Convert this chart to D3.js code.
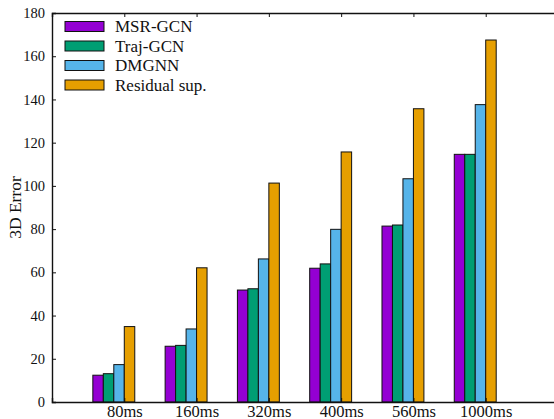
<!DOCTYPE html>
<html lang="en">
    <head>
        <meta charset="UTF-8" />
        <title>3D Error bar chart</title>
        <script src="https://cdn.jsdelivr.net/npm/d3@7"></script>
        <style>
            body { margin: 0; padding: 0; background: #fff; }
            text { font-family: 'Liberation Serif', 'Times New Roman', serif; fill: #111; }
        </style>
    </head>
    <body>
        <script>
            // categories and the four methods
            const categories = ['80ms', '160ms', '320ms', '400ms', '560ms', '1000ms'];
            const seriesNames = ['MSR-GCN', 'Traj-GCN', 'DMGNN', 'Residual sup.'];
            const msrGcn = [12.4, 25.8, 51.8, 61.9, 81.4, 114.6];
            const trajGcn = [13.1, 26.2, 52.4, 63.9, 81.9, 114.6];
            const dmgnn = [17.3, 33.8, 66.2, 79.9, 103.3, 137.6];
            const residualSup = [34.9, 62.1, 101.3, 115.7, 135.7, 167.5];
            const yTicks = [0, 20, 40, 60, 80, 100, 120, 140, 160, 180];

            {
                const colors = ['#9400d3', '#009e73', '#56b4e9', '#e69f00'];
                const allSeries = [msrGcn, trajGcn, dmgnn, residualSup];

                const width = 554;
                const height = 419;
                const mLeft = 52, mTop = 13, mBottom = 402, mRight = 558;

                const svg = d3.select('body')
                    .append('svg')
                    .attr('width', width)
                    .attr('height', height);

                // x: category i sits at position i+1, frame runs 0..7
                const x = d3.scaleLinear().domain([0, categories.length + 1]).range([mLeft, mRight]);
                const y = d3.scaleLinear().domain([0, 180]).range([mBottom, mTop]);
                const bw = 0.145; // bar width in x units

                // bars
                allSeries.forEach((vals, j) => {
                    svg.append('g')
                        .selectAll('rect')
                        .data(vals)
                        .join('rect')
                        .attr('x', (d, i) => x(i + 1 + (j - 3) * bw))
                        .attr('width', x(bw) - x(0))
                        .attr('y', d => y(d))
                        .attr('height', d => y(0) - y(d))
                        .attr('fill', colors[j])
                        .attr('stroke', '#111')
                        .attr('stroke-width', 1);
                });

                // axes
                const tickPos = categories.map((c, i) => i + 1);

                const yAxis = svg.append('g')
                    .attr('transform', `translate(${mLeft},0)`)
                    .call(d3.axisLeft(y).tickValues(yTicks).tickSize(-4).tickPadding(7));
                yAxis.selectAll('text').style('font-size', '14.5px');

                svg.append('g')
                    .attr('transform', `translate(${mRight},0)`)
                    .call(d3.axisRight(y).tickValues(yTicks).tickSize(-4).tickFormat(''));

                const xAxis = svg.append('g')
                    .attr('transform', `translate(0,${mBottom})`)
                    .call(d3.axisBottom(x).tickValues(tickPos).tickSize(-4).tickPadding(3)
                        .tickFormat(d => categories[d - 1]));
                xAxis.selectAll('text').style('font-size', '16.5px');

                svg.append('g')
                    .attr('transform', `translate(0,${mTop})`)
                    .call(d3.axisTop(x).tickValues(tickPos).tickSize(-4).tickFormat(''));

                svg.selectAll('.domain').attr('stroke', '#111').attr('stroke-width', 1.4);
                svg.selectAll('.tick line').attr('stroke', '#111');

                // y title
                svg.append('text')
                    .attr('transform', `translate(21,${(mTop + mBottom) / 2}) rotate(-90)`)
                    .attr('text-anchor', 'middle')
                    .style('font-size', '17.5px')
                    .text('3D Error');

                // legend
                const legend = svg.append('g');
                seriesNames.forEach((name, j) => {
                    const cy = 26.5 + j * 19.5;
                    legend.append('rect')
                        .attr('x', 65).attr('y', cy - 5)
                        .attr('width', 39).attr('height', 10)
                        .attr('fill', colors[j])
                        .attr('stroke', '#111');
                    legend.append('text')
                        .attr('x', 115).attr('y', cy)
                        .attr('dy', '0.35em')
                        .style('font-size', '17px')
                        .text(name);
                });
            }
        </script>
    </body>
</html>
